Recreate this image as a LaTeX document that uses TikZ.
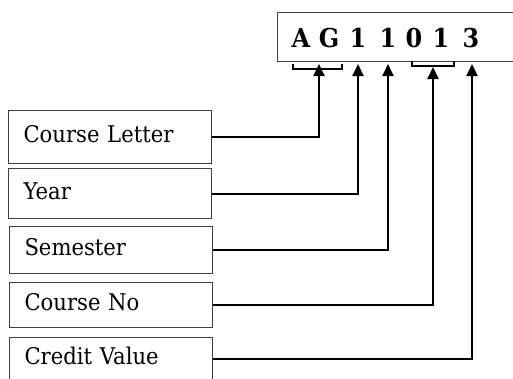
\documentclass[tikz,border=0pt]{standalone}
\usepackage{fontspec}
\setmainfont{DejaVu Serif}[FakeStretch=0.92]
\usetikzlibrary{arrows.meta}
\begin{document}
\begin{tikzpicture}[x=1pt,y=-1pt,
  labelbox/.style={draw=black!75,line width=1pt,minimum width=203pt,inner xsep=15pt,
    text width=173pt,align=left,text height=12.4pt,text depth=0pt,
    font=\fontsize{23}{27}\selectfont,anchor=north west},
  codechar/.style={font=\fontsize{26}{30}\selectfont\bfseries,anchor=base,inner sep=0pt},
  conn/.style={line width=2pt,-{Triangle[width=11pt,length=12pt]}},
  brk/.style={line width=1.6pt}]
\useasboundingbox (0,0) rectangle (513,378);
\clip (0,0) rectangle (513,378);
% code box
\node[draw=black!75,line width=1pt,minimum width=260pt,minimum height=49pt,anchor=north west,inner sep=0pt] (code) at (277,12) {};
\node[codechar] (cA) at (301,47) {A};
\node[codechar] (cG) at (329,47) {G};
\node[codechar] (c1) at (358,47) {1};
\node[codechar] (c2) at (388,47) {1};
\node[codechar] (c3) at (414,47) {0};
\node[codechar] (c4) at (441,47) {1};
\node[codechar] (c5) at (471,47) {3};
% brackets
\draw[brk] (293,64) -- (293,69) -- (342,69) -- (342,64);
\draw[brk] (412,61) -- (412,66) -- (454,66) -- (454,61);
% arrow tips
\coordinate (tA) at (319,64);
\coordinate (tB) at (358,64);
\coordinate (tC) at (388,64);
\coordinate (tD) at (433,67);
\coordinate (tE) at (472,64);
% label boxes
\node[labelbox,minimum height=53pt] (cl) at (8,109.5) {Course Letter};
\node[labelbox,minimum height=50pt] (yr) at (8,168) {Year};
\node[labelbox,minimum height=47pt] (se) at (9,225.5) {Semester};
\node[labelbox,minimum height=45pt] (cn) at (9,281.5) {Course No};
\node[labelbox,minimum height=42pt] (cv) at (9,337) {Credit Value};
% connectors
\draw[conn] (cl.east) -| (tA);
\draw[conn] (yr.east) -| (tB);
\draw[conn] (se.east) -| (tC);
\draw[conn] (cn.east) -| (tD);
\draw[conn] (cv.east) -| (tE);
\end{tikzpicture}
\end{document}
